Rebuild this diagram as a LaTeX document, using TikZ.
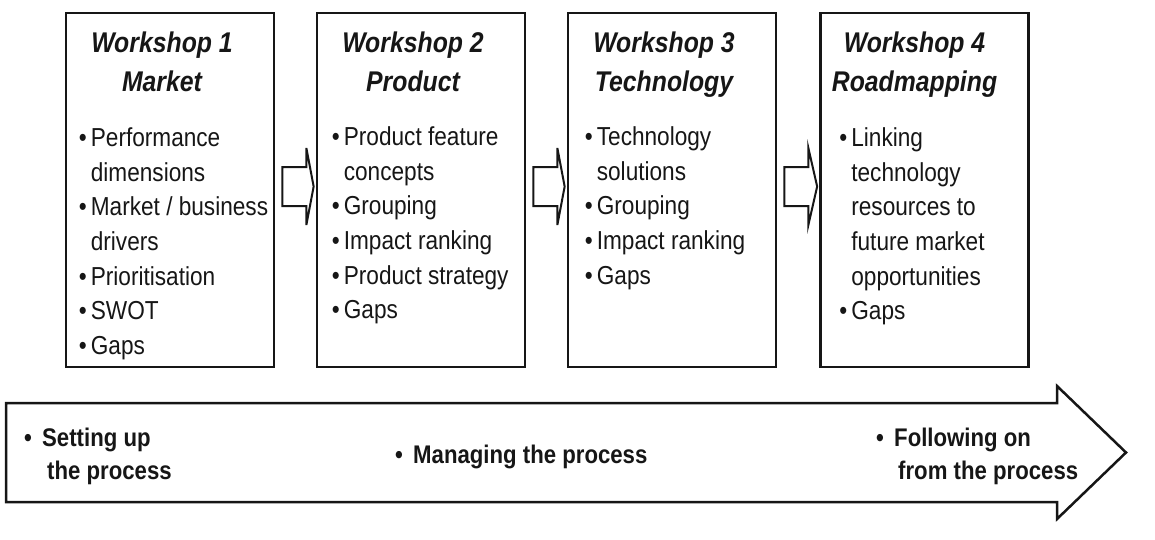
\documentclass[tikz,border=0pt]{standalone}
\usepackage{fontspec}
\setmainfont[FakeStretch=0.87]{Liberation Sans}
\usetikzlibrary{calc}

\definecolor{ink}{HTML}{161616}

% bullet item and its continuation line
\newcommand{\itm}[1]{\makebox[12pt][l]{\textbullet}#1}
\newcommand{\cnt}[1]{\hspace*{12pt}#1}
\newcommand{\stg}[1]{\makebox[18pt][l]{\textbullet}#1}

\tikzset{
  wsbox/.style={draw=ink, line width=2.7pt, minimum width=208pt, minimum height=354pt, inner sep=0pt},
  wstitle/.style={font=\fontsize{28.5}{39}\selectfont\bfseries\itshape, text=ink, align=center, anchor=north, inner sep=0pt},
  wslist/.style={font=\fontsize{26}{34.6}\selectfont, text=ink, align=left, anchor=north west, inner sep=0pt},
  blockarrow/.style={draw=ink, line width=2pt, line join=miter},
  stage/.style={font=\fontsize{25.5}{33}\selectfont\bfseries, text=ink, align=left, anchor=north west, inner sep=0pt},
}

\begin{document}
\begin{tikzpicture}[x=1pt,y=-1pt]
  \useasboundingbox (0,0) rectangle (1155,539);

  % the four workshops
  \node[wsbox] (ws1) at (170,190) {};
  \node[wsbox] (ws2) at (421,190) {};
  \node[wsbox] (ws3) at (672,190) {};
  \node[wsbox] (ws4) at (924.5,190) {};

  \node[wstitle] (t1) at ($(ws1.north)+(-8,19.5)$) {Workshop 1\\Market};
  \node[wstitle] (t2) at ($(ws2.north)+(-8,19.5)$) {Workshop 2\\Product};
  \node[wstitle] (t3) at ($(ws3.north)+(-8,19.5)$) {Workshop 3\\Technology};
  \node[wstitle] (t4) at ($(ws4.north)+(-10,19.5)$) {Workshop 4\\Roadmapping};

  \node[wslist] (l1) at ($(ws1.north west)+(14,116)$)
    {\itm{Performance}\\\cnt{dimensions}\\\itm{Market / business}\\\cnt{drivers}\\\itm{Prioritisation}\\\itm{SWOT}\\\itm{Gaps}};
  \node[wslist] (l2) at ($(ws2.north west)+(16,115)$)
    {\itm{Product feature}\\\cnt{concepts}\\\itm{Grouping}\\\itm{Impact ranking}\\\itm{Product strategy}\\\itm{Gaps}};
  \node[wslist] (l3) at ($(ws3.north west)+(18,115)$)
    {\itm{Technology}\\\cnt{solutions}\\\itm{Grouping}\\\itm{Impact ranking}\\\itm{Gaps}};
  \node[wslist] (l4) at ($(ws4.north west)+(20,116)$)
    {\itm{Linking}\\\cnt{technology}\\\cnt{resources to}\\\cnt{future market}\\\cnt{opportunities}\\\itm{Gaps}};

  % hollow arrows from one workshop to the next
  \foreach \a/\b in {ws1/ws2,ws2/ws3,ws3/ws4}
    \draw[blockarrow] ($(\a.east)+(7,-23)$) -- ($(\a.east)+(31,-23)$) -- ($(\a.east)+(31,-42)$)
      -- ($(\b.west)+(-2,-3.5)$) -- ($(\a.east)+(31,35)$) -- ($(\a.east)+(31,16)$)
      -- ($(\a.east)+(7,16)$) -- cycle;

  % the process arrow
  \draw[blockarrow, line width=2.5pt] (6,403) -- (1057,403) -- (1057,386) -- (1126,452.5)
    -- (1057,519) -- (1057,502) -- (6,502) -- cycle;
  \node[stage] (setup) at (24,428) {\stg{Setting up}\\\hspace*{23pt}the process};
  \node[stage] (manage) at (395,445) {\stg{Managing the process}};
  \node[stage] (follow) at (876,428) {\stg{Following on}\\\hspace*{22pt}from the process};
\end{tikzpicture}
\end{document}
